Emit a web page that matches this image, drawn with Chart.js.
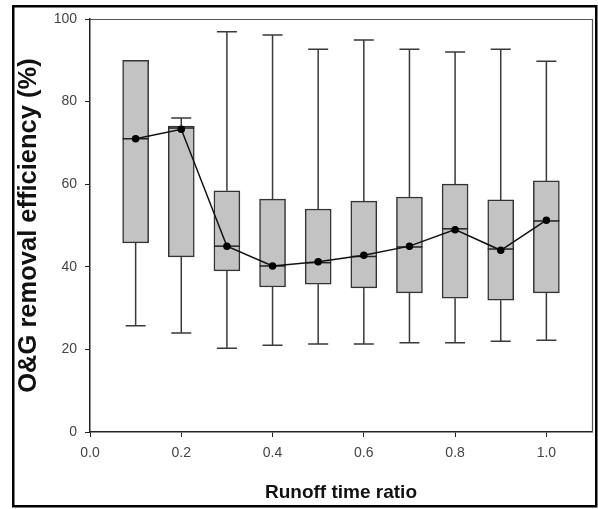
<!DOCTYPE html>
<html>
<head>
<meta charset="utf-8">
<title>O&amp;G removal efficiency</title>
<script src="https://cdn.jsdelivr.net/npm/chart.js@4.4.1/dist/chart.umd.min.js"></script>
<style>
	html, body { margin: 0; padding: 0; background: #fff; }
	#wrap { position: absolute; left: 0; top: 0; width: 598px; height: 509px; }
</style>
</head>
<body>
<div id="wrap"><canvas id="chart" width="598" height="509"></canvas></div>
<script>
// runoff time ratio for each box
const ratios = [0.1, 0.2, 0.3, 0.4, 0.5, 0.6, 0.7, 0.8, 0.9, 1.0];

// box statistics (%)
const whiskerLow = [25.7, 24.0, 20.3, 21.0, 21.3, 21.3, 21.6, 21.6, 22.0, 22.2];
const quart1 = [45.8, 42.4, 39.0, 35.1, 35.8, 34.9, 33.7, 32.4, 31.9, 33.7];
const medians = [71.0, 73.6, 45.0, 40.2, 41.0, 42.5, 44.8, 49.2, 44.3, 51.1];
const quart3 = [90.0, 74.1, 58.4, 56.4, 54.0, 55.9, 56.9, 60.0, 56.2, 60.8];
const whiskerHigh = [90.0, 76.0, 96.9, 96.1, 92.7, 94.9, 92.7, 92.0, 92.7, 89.8];
const means = [71.0, 73.3, 45.0, 40.2, 41.2, 42.8, 45.0, 49.0, 44.0, 51.3];

const xTicks = [0.0, 0.2, 0.4, 0.6, 0.8, 1.0];
const yTicks = [0, 20, 40, 60, 80, 100];

const tickFont = { family: "'Liberation Sans', Arial, sans-serif", size: 14 };

// whiskers, caps and median lines, drawn right after the boxes
const boxExtras = {
	id: "boxExtras",
	afterDatasetDraw(chart, args) {
		if (args.index !== 0) return;
		const ctx = chart.ctx;
		const xs = chart.scales.x;
		const ys = chart.scales.y;
		const half = 13;
		const cap = 10;
		ctx.save();
		ctx.lineWidth = 1.5;
		ratios.forEach((r, i) => {
			const px = xs.getPixelForValue(r);
			ctx.strokeStyle = "#3a3a3a";
			ctx.beginPath();
			if (whiskerHigh[i] > quart3[i]) {
				ctx.moveTo(px, ys.getPixelForValue(quart3[i]));
				ctx.lineTo(px, ys.getPixelForValue(whiskerHigh[i]));
				ctx.moveTo(px - cap, ys.getPixelForValue(whiskerHigh[i]));
				ctx.lineTo(px + cap, ys.getPixelForValue(whiskerHigh[i]));
			}
			ctx.moveTo(px, ys.getPixelForValue(quart1[i]));
			ctx.lineTo(px, ys.getPixelForValue(whiskerLow[i]));
			ctx.moveTo(px - cap, ys.getPixelForValue(whiskerLow[i]));
			ctx.lineTo(px + cap, ys.getPixelForValue(whiskerLow[i]));
			ctx.stroke();

			ctx.strokeStyle = "#222";
			ctx.beginPath();
			ctx.moveTo(px - half, ys.getPixelForValue(medians[i]));
			ctx.lineTo(px + half, ys.getPixelForValue(medians[i]));
			ctx.stroke();
		});
		ctx.restore();
	},
};

// white background, plot frame and outer border
const frame = {
	id: "frame",
	beforeDraw(chart) {
		const ctx = chart.ctx;
		ctx.save();
		ctx.fillStyle = "#fff";
		ctx.fillRect(0, 0, chart.width, chart.height);
		ctx.restore();
	},
	afterDraw(chart) {
		const ctx = chart.ctx;
		const a = chart.chartArea;
		ctx.save();
		ctx.strokeStyle = "#555";
		ctx.lineWidth = 1.2;
		ctx.beginPath();
		ctx.moveTo(a.left, a.top + 0.5);
		ctx.lineTo(a.right + 0.5, a.top + 0.5);
		ctx.lineTo(a.right + 0.5, a.bottom);
		ctx.stroke();
		ctx.strokeStyle = "#000";
		ctx.lineWidth = 2.5;
		ctx.strokeRect(13.25, 6.25, 583, 500);
		ctx.restore();
	},
};

new Chart(document.getElementById("chart"), {
	type: "bar",
	data: {
		datasets: [
			{
				type: "bar",
				label: "IQR",
				data: ratios.map((r, i) => ({ x: r, y: [quart1[i], quart3[i]] })),
				backgroundColor: "#c3c3c3",
				borderColor: "#333",
				borderWidth: 1.5,
				borderSkipped: false,
				barThickness: 26,
				order: 2,
			},
			{
				type: "line",
				label: "Mean",
				data: ratios.map((r, i) => ({ x: r, y: means[i] })),
				borderColor: "#111",
				borderWidth: 1.5,
				pointRadius: 3,
				pointBackgroundColor: "#000",
				pointBorderColor: "#000",
				tension: 0,
				order: 1,
			},
		],
	},
	options: {
		responsive: false,
		animation: false,
		layout: { padding: { left: 14, top: 19, right: 6, bottom: 5 } },
		plugins: { legend: { display: false }, tooltip: { enabled: false } },
		scales: {
			x: {
				type: "linear",
				min: 0,
				max: 1.1,
				offset: false,
				afterBuildTicks: (s) => { s.ticks = xTicks.map((v) => ({ value: v })); },
				afterFit: (s) => { s.height = 72; },
				ticks: {
					font: tickFont,
					color: "#444",
					padding: 8,
					maxRotation: 0,
					callback: (v) => Number(v).toFixed(1),
				},
				grid: { display: true, drawOnChartArea: false, drawTicks: true, tickLength: 5, color: "#222", offset: false },
				border: { display: true, color: "#222", width: 1.5 },
				title: {
					display: true,
					text: "Runoff time ratio",
					color: "#111",
					font: { family: "Arial, 'Liberation Sans', sans-serif", size: 19, weight: "bold" },
					padding: { top: 0, bottom: 0 },
				},
			},
			y: {
				min: 0,
				max: 100,
				afterBuildTicks: (s) => { s.ticks = yTicks.map((v) => ({ value: v })); },
				afterFit: (s) => { s.width = 76; },
				ticks: { font: tickFont, color: "#444", padding: 8 },
				grid: { display: true, drawOnChartArea: false, drawTicks: true, tickLength: 5, color: "#222" },
				border: { display: true, color: "#222", width: 1.5 },
				title: {
					display: true,
					text: "O&G removal efficiency (%)",
					color: "#111",
					font: { family: "Arial, 'Liberation Sans', sans-serif", size: 25.5, weight: "bold" },
					padding: { top: 0, bottom: 0 },
				},
			},
		},
	},
	plugins: [boxExtras, frame],
});
</script>
</body>
</html>
